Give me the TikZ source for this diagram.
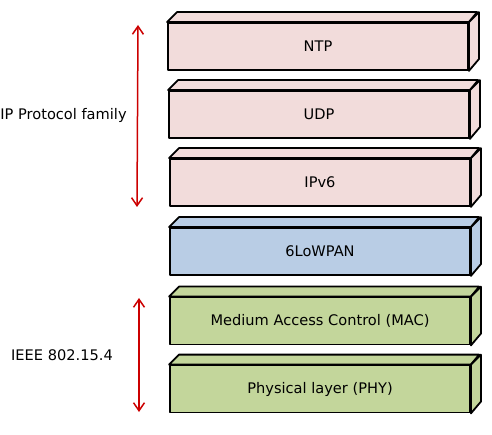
\documentclass[tikz,border=0pt]{standalone}
\usepackage{fontspec}
\setmainfont{DejaVu Sans}
\usetikzlibrary{arrows.meta}
\definecolor{ippink}{HTML}{F2DCDB}
\definecolor{lowblue}{HTML}{B9CDE5}
\definecolor{macgreen}{HTML}{C3D69B}
\definecolor{famred}{HTML}{CC0000}
\tikzset{
  layer/.style={draw=black, line width=1.8pt, minimum width=300pt, minimum height=47pt,
    inner sep=0pt, font=\fontsize{14.6}{17}\selectfont},
  famlabel/.style={font=\fontsize{14.6}{17}\selectfont, inner sep=0pt},
  famarrow/.style={draw=famred, line width=1.5pt, {Straight Barb[length=8pt,width=11pt]}-{Straight Barb[length=8pt,width=11pt]}}
}
\begin{document}
\begin{tikzpicture}[line cap=round,line join=round,x=1pt,y=-1pt]
			\useasboundingbox (0,0) rectangle (492,435);
			% protocol stack
			\node[layer, fill=ippink] (ntp) at (318,46.5) {NTP};
			\node[layer, fill=ippink] (udp) at (319,114.5) {UDP};
			\node[layer, fill=ippink] (ipv6) at (320,182.5) {IPv6};
			\node[layer, fill=lowblue] (lowpan) at (320,251.5) {6LoWPAN};
			\node[layer, fill=macgreen] (mac) at (320,321) {Medium Access Control (MAC)};
			\node[layer, fill=macgreen] (phy) at (320,389) {Physical layer (PHY)};
			% top and side faces
			\foreach \n/\c in {ntp/ippink,udp/ippink,ipv6/ippink,lowpan/lowblue,mac/macgreen,phy/macgreen}{
				\draw[line width=1.8pt, fill=\c] (\n.north west) -- ++(10,-10) -- ++(300,0) -- (\n.north east) -- cycle;
				\draw[line width=1.8pt, fill=\c] (\n.north east) -- ++(10,-10) -- ++(0,47) -- (\n.south east) -- cycle;
			}
			% families
			\node[famlabel] (iplbl) at (63.5,115) {IP Protocol family};
			\node[famlabel] (ieeelbl) at (62,355) {IEEE 802.15.4};
			\coordinate (iptop) at (138,25);
			\coordinate (ipbot) at (137,207);
			\coordinate (ieeetop) at (139,298);
			\coordinate (ieeebot) at (139,412);
			\draw[famarrow] (iptop) -- (ipbot);
			\draw[famarrow] (ieeetop) -- (ieeebot);
		\end{tikzpicture}
\end{document}
